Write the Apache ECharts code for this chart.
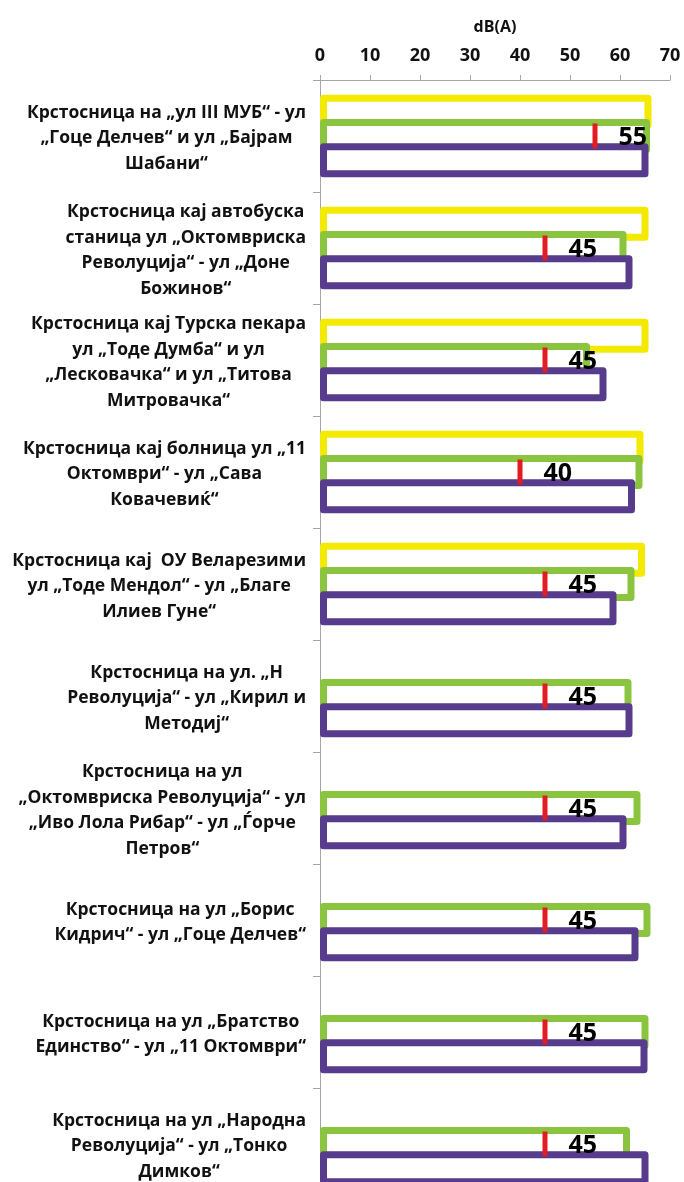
<!DOCTYPE html>
<html>
<head>
<meta charset="utf-8">
<script src="https://cdn.jsdelivr.net/npm/echarts@6/dist/echarts.min.js"></script>
<style>
html,body{margin:0;padding:0;background:#ffffff;overflow:hidden;}
#chart{width:684px;height:1204px;}
</style>
</head>
<body>
<div id="chart"></div>
<script>
const categories = [
  "Крстосница на „ул III МУБ“ - ул\n„Гоце Делчев“ и ул „Бајрам\nШабани“",
  "Крстосница кај автобуска\nстаница ул „Октомвриска\nРеволуција“ - ул „Доне\nБожинов“",
  "Крстосница кај Турска пекара\nул „Тоде Думба“ и ул\n„Лесковачка“ и ул „Титова\nМитровачка“",
  "Крстосница кај болница ул „11\nОктомври“ - ул „Сава\nКовачевиќ“",
  "Крстосница кај  ОУ Веларезими\nул „Тоде Мендол“ - ул „Благе\nИлиев Гуне“",
  "Крстосница на ул. „Н\nРеволуција“ - ул „Кирил и\nМетодиј“",
  "Крстосница на ул\n„Октомвриска Револуција“ - ул\n„Иво Лола Рибар“ - ул „Ѓорче\nПетров“",
  "Крстосница на ул „Борис\nКидрич“ - ул „Гоце Делчев“",
  "Крстосница на ул „Братство\nЕдинство“ - ул „11 Октомври“",
  "Крстосница на ул „Народна\nРеволуција“ - ул „Тонко\nДимков“"
];
const yellowValues = [66.3, 65.7, 65.7, 64.7, 65.0, '-', '-', '-', '-', '-'];
const greenValues  = [66.0, 61.3, 54.0, 64.5, 62.9, 62.3, 64.1, 66.1, 65.7, 62.0];
const purpleValues = [65.7, 62.5, 57.3, 63.0, 59.3, 62.5, 61.3, 63.7, 65.5, 65.7];
const limitValues  = [55, 45, 45, 40, 45, 45, 45, 45, 45, 45];
const axisName = "dB(A)";

const chart = echarts.init(document.getElementById('chart'), null, {renderer: 'canvas'});

function barSeries(data, color) {
  return {
    type: 'bar',
    data: data,
    barWidth: 34,
    barGap: '-29%',
    clip: false,
    itemStyle: {color: '#ffffff', borderColor: color, borderWidth: 7, borderJoin: 'round'},
    emphasis: {disabled: true},
    animation: false
  };
}

chart.setOption({
  animation: false,
  backgroundColor: '#ffffff',
  grid: {left: 320, top: 80, width: 350, height: 1120, containLabel: false},
  xAxis: {
    type: 'value', position: 'top', min: 0, max: 70, interval: 10,
    name: axisName, nameLocation: 'middle', nameGap: 45,
    nameTextStyle: {fontFamily: 'Open Sans', fontWeight: 'bold', fontSize: 16, color: '#111'},
    axisLine: {show: true, lineStyle: {color: '#a6a6a6', width: 1}},
    axisTick: {show: true, length: 5, lineStyle: {color: '#a6a6a6'}},
    splitLine: {show: false},
    axisLabel: {fontFamily: 'Open Sans', fontWeight: 'bold', fontSize: 18, color: '#111', margin: 15}
  },
  yAxis: {
    type: 'category', inverse: true, data: categories,
    axisLine: {show: true, lineStyle: {color: '#a6a6a6', width: 1}},
    axisTick: {show: true, length: 7, lineStyle: {color: '#a6a6a6'}},
    axisLabel: {
      margin: 14,
      padding: [5, 0, 0, 0],
      formatter: function (v) { return v.split('\n').map(l => '{c|' + l + '}').join('\n'); },
      rich: {c: {align: 'center', fontFamily: 'Open Sans', fontWeight: 'bold', fontSize: 17.5, lineHeight: 25.5, color: '#111'}}
    }
  },
  series: [
    barSeries(yellowValues, '#f3ea00'),
    barSeries(greenValues, '#8bc53f'),
    barSeries(purpleValues, '#573b8c'),
    {
      type: 'scatter',
      data: limitValues.map((v, i) => [v, i]),
      symbol: 'rect',
      symbolSize: [5, 25],
      itemStyle: {color: '#e31b23', opacity: 1},
      z: 5,
      label: {
        show: true, position: 'right', distance: 21, offset: [0, 2],
        formatter: p => String(p.value[0]),
        fontFamily: 'Open Sans', fontWeight: 'bold', fontSize: 25, color: '#000', opacity: 1
      },
      emphasis: {disabled: true}
    }
  ]
});
</script>
</body>
</html>
